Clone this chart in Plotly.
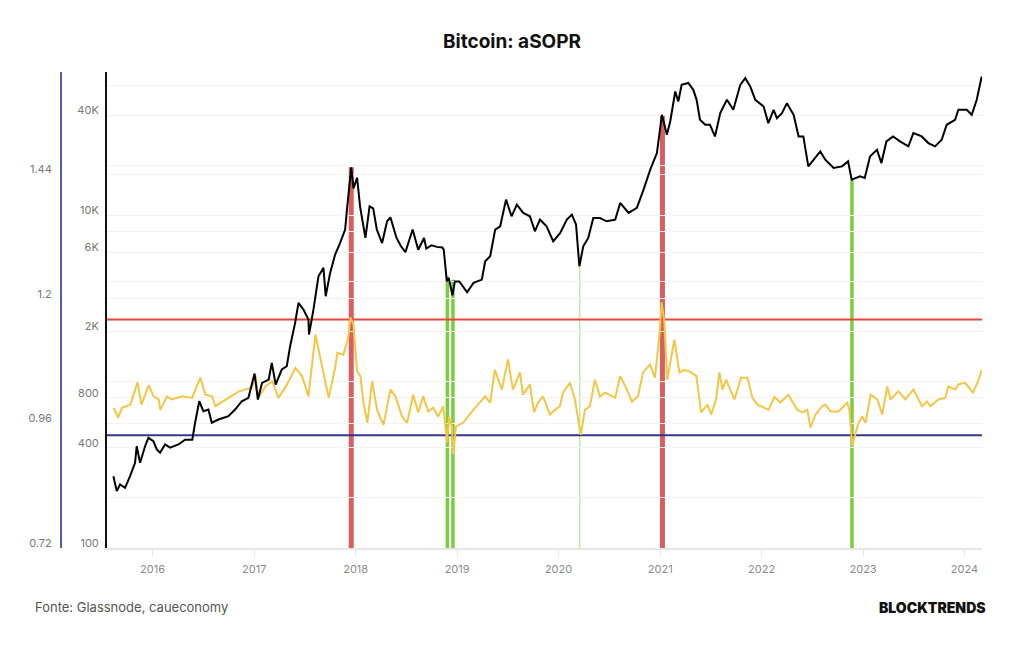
import plotly.graph_objects as go

# ---------------- data ----------------
price_dates = [
    "2015-08-13","2015-08-25","2015-09-06","2015-09-24","2015-10-12","2015-10-30","2015-11-05","2015-11-17",
    "2015-12-05","2015-12-17","2016-01-04","2016-01-16","2016-01-28","2016-02-15","2016-03-04","2016-04-03",
    "2016-04-27","2016-05-23","2016-06-02","2016-06-17","2016-07-02","2016-07-20","2016-08-01","2016-08-25",
    "2016-09-30","2016-10-24","2016-11-17","2016-12-11","2017-01-02","2017-01-14","2017-01-29","2017-02-22",
    "2017-03-05","2017-03-19","2017-04-10","2017-04-28","2017-05-10","2017-05-28","2017-06-09","2017-06-27",
    "2017-07-15","2017-07-17","2017-08-02","2017-08-20","2017-09-07","2017-09-15","2017-10-01","2017-10-19",
    "2017-11-06","2017-11-24","2017-12-01","2017-12-16","2017-12-24","2018-01-06","2018-01-17","2018-02-05",
    "2018-02-20","2018-03-05","2018-03-18","2018-04-06","2018-04-24","2018-05-06","2018-05-28","2018-06-13",
    "2018-06-29","2018-07-25","2018-08-14","2018-09-04","2018-09-12","2018-10-01","2018-10-20","2018-11-09",
    "2018-11-14","2018-11-20","2018-11-25","2018-12-02","2018-12-15","2018-12-24","2019-01-09","2019-02-06",
    "2019-03-01","2019-03-31","2019-04-12","2019-04-30","2019-05-18","2019-06-05","2019-06-26","2019-07-16",
    "2019-08-04","2019-08-27","2019-09-20","2019-10-08","2019-10-26","2019-11-19","2019-12-13","2020-01-07",
    "2020-01-31","2020-02-18","2020-03-04","2020-03-16","2020-03-30","2020-04-17","2020-05-05","2020-05-29",
    "2020-06-22","2020-07-23","2020-08-10","2020-09-09","2020-10-09","2020-11-02","2020-11-26","2020-12-20",
    "2021-01-07","2021-01-25","2021-02-06","2021-02-24","2021-03-07","2021-03-19","2021-04-12","2021-04-30",
    "2021-05-12","2021-05-24","2021-06-12","2021-06-29","2021-07-17","2021-08-05","2021-08-29","2021-09-21",
    "2021-10-16","2021-11-03","2021-11-21","2021-12-09","2022-01-08","2022-01-25","2022-02-13","2022-02-25",
    "2022-03-15","2022-04-02","2022-04-26","2022-05-14","2022-05-31","2022-06-18","2022-07-07","2022-07-31",
    "2022-08-18","2022-09-17","2022-10-17","2022-11-08","2022-11-21","2022-12-21","2023-01-07","2023-01-26",
    "2023-02-20","2023-03-08","2023-03-26","2023-04-19","2023-05-14","2023-06-13","2023-07-01","2023-07-31",
    "2023-08-24","2023-09-17","2023-10-11","2023-10-29","2023-11-28","2023-12-10","2024-01-09","2024-01-27",
    "2024-02-14","2024-03-03",
]
price_values = [
    270, 220, 241, 230, 270, 325, 409, 325,
    409, 459, 438, 391, 374, 419, 401, 419,
    448, 448, 566, 762, 664, 679, 566, 592,
    620, 679, 762, 799, 1118, 780, 983, 1029,
    1296, 960, 1182, 1237, 1631, 2254, 2972, 2709,
    2359, 1917, 2709, 4293, 4824, 3257, 4501, 5800,
    6815, 8193, 11000, 19400, 14500, 16800, 11200, 7300,
    11300, 11000, 8200, 6800, 9200, 9700, 7300, 6500,
    6000, 8200, 6200, 7300, 6300, 6600, 6450, 6400,
    6200, 4700, 4000, 4200, 3300, 4000, 4000, 3443,
    3920, 4104, 5287, 5665, 8193, 8575, 12400, 9850,
    11578, 10314, 9850, 8003, 9407, 8575, 6966, 7830,
    9407, 10076, 8780, 4936, 6502, 7301, 9623, 9623,
    9191, 9407, 11848, 10314, 11059, 14234, 18770, 23630,
    40122, 30434, 36590, 55393, 48244, 60728, 62294, 56678,
    49367, 37454, 34949, 34949, 29743, 41062, 49367, 42995,
    60728, 66636, 59400, 49367, 45025, 35759, 42995, 38318,
    41062, 47142, 40122, 29743, 29743, 19656, 21546, 24181,
    21546, 19224, 19656, 21060, 16351, 17118, 16740, 22561,
    24743, 20574, 27756, 29743, 27756, 25909, 31147, 29743,
    27130, 25909, 28404, 34949, 37454, 42995, 42995, 40122,
    49367, 68148,
]

asopr_dates = [
    "2015-08-14","2015-08-30","2015-09-13","2015-10-13","2015-11-08","2015-11-22","2015-12-18","2016-01-05",
    "2016-01-23","2016-01-29","2016-02-22","2016-03-11","2016-04-16","2016-05-22","2016-06-21","2016-07-09",
    "2016-08-02","2016-08-14","2016-09-30","2016-11-05","2016-12-24","2017-01-05","2017-01-16","2017-02-10",
    "2017-03-07","2017-03-29","2017-04-29","2017-05-29","2017-06-22","2017-07-15","2017-08-09","2017-09-02",
    "2017-09-26","2017-10-20","2017-10-27","2017-11-18","2017-12-06","2017-12-13","2017-12-24","2018-01-06",
    "2018-01-18","2018-01-29","2018-02-12","2018-03-01","2018-03-19","2018-04-11","2018-05-06","2018-05-24",
    "2018-06-17","2018-07-05","2018-07-27","2018-08-14","2018-09-01","2018-09-19","2018-10-07","2018-10-25",
    "2018-11-12","2018-11-26","2018-12-03","2018-12-13","2018-12-18","2018-12-28","2019-01-23","2019-02-28",
    "2019-04-12","2019-04-30","2019-05-17","2019-06-11","2019-07-03","2019-07-21","2019-08-15","2019-08-26",
    "2019-09-20","2019-10-05","2019-10-19","2019-11-06","2019-12-01","2019-12-19","2020-01-06","2020-01-17",
    "2020-02-11","2020-02-29","2020-03-21","2020-04-05","2020-04-23","2020-05-11","2020-05-29","2020-06-17",
    "2020-07-23","2020-08-10","2020-09-03","2020-09-21","2020-10-13","2020-10-31","2020-11-25","2020-12-13",
    "2020-12-30","2021-01-06","2021-01-16","2021-01-26","2021-02-21","2021-03-11","2021-03-29","2021-04-16",
    "2021-05-11","2021-05-28","2021-06-20","2021-07-03","2021-07-21","2021-08-02","2021-08-13","2021-08-26",
    "2021-09-25","2021-10-19","2021-11-11","2021-11-29","2021-12-17","2022-01-26","2022-02-16","2022-03-09",
    "2022-04-07","2022-05-09","2022-05-27","2022-06-14","2022-06-26","2022-07-14","2022-08-07","2022-08-19",
    "2022-09-06","2022-10-05","2022-11-05","2022-11-13","2022-11-23","2022-12-05","2022-12-16","2022-12-29",
    "2023-01-10","2023-01-28","2023-02-21","2023-03-11","2023-03-29","2023-04-10","2023-05-08","2023-06-02",
    "2023-07-01","2023-08-01","2023-08-19","2023-08-31","2023-09-29","2023-10-24","2023-11-04","2023-11-29",
    "2023-12-10","2024-01-03","2024-02-01","2024-02-19","2024-03-03",
]
asopr_values = [
    0.990, 0.971, 0.990, 0.996, 1.039, 0.996, 1.033, 1.012,
    1.006, 0.986, 1.012, 1.006, 1.012, 1.009, 1.048, 1.015,
    1.012, 0.993, 1.009, 1.021, 1.029, 1.054, 1.009, 1.031,
    1.041, 1.009, 1.035, 1.067, 1.051, 1.012, 1.131, 1.070,
    1.009, 1.070, 1.096, 1.092, 1.128, 1.164, 1.150, 1.060,
    1.051, 1.000, 0.961, 1.041, 0.986, 0.957, 1.025, 1.012,
    0.973, 0.961, 1.015, 0.981, 1.012, 0.983, 0.990, 0.973,
    0.993, 0.923, 0.973, 0.954, 0.900, 0.954, 0.961, 0.986,
    1.012, 1.000, 1.063, 1.025, 1.083, 1.025, 1.058, 1.015,
    1.035, 0.981, 1.000, 1.012, 0.977, 0.986, 0.993, 1.019,
    1.038, 1.006, 0.938, 0.986, 0.993, 1.044, 1.012, 1.019,
    1.009, 1.051, 1.025, 1.002, 1.012, 1.058, 1.073, 1.048,
    1.135, 1.193, 1.154, 1.044, 1.121, 1.058, 1.063, 1.060,
    1.051, 0.981, 0.996, 0.977, 1.006, 1.058, 1.025, 1.044,
    1.006, 1.048, 1.048, 1.009, 0.996, 0.986, 1.011, 1.000,
    1.015, 0.986, 0.981, 0.986, 0.952, 0.977, 0.993, 0.996,
    0.983, 0.983, 1.000, 0.986, 0.916, 0.942, 0.961, 0.973,
    0.961, 1.015, 1.006, 0.977, 1.031, 1.006, 1.022, 1.006,
    1.025, 0.993, 1.002, 0.993, 1.006, 1.009, 1.031, 1.025,
    1.035, 1.038, 1.019, 1.041, 1.063,
]

# marked events (vertical bars from the axis floor up to the price)
event_dates = ["2017-12-16", "2018-11-27", "2018-12-17", "2020-03-17", "2021-01-09", "2022-11-22"]
event_prices = [19400, 4300, 4100, 5000, 40000, 16300]
event_kinds = ["top", "bottom", "bottom", "minor", "top", "bottom"]

# aSOPR reference levels
asopr_upper_level = 1.16
asopr_lower_level = 0.937

# axis ticks
price_tickvals = [100, 200, 400, 800, 1000, 2000, 4000, 6000, 8000, 10000, 20000, 40000, 60000]
price_ticktext = ["100", "", "400", "800", "", "2K", "", "6K", "", "10K", "", "40K", ""]
asopr_tickvals = [0.72, 0.96, 1.2, 1.44]
asopr_ticktext = ["0.72", "0.96", "1.2", "1.44"]

x_start, x_end = "2015-07-21", "2024-03-04"
price_floor = 100

# ---------------- styling ----------------
kind_color = {"top": "#d95f5f", "bottom": "#7ccc3f", "minor": "#c4e6ab"}
kind_width = {"top": 5, "bottom": 3.5, "minor": 1.5}

W, H = 1024, 645
ML, MR, MT, MB = 0, 42, 72, 97
PW = W - ML - MR
PH = H - MT - MB
plot_left_px = 107
asopr_axis_px = 61
footer_y = (MT + PH - 607) / PH

fig = go.Figure()

# reference levels (on aSOPR axis, drawn under the aSOPR line)
fig.add_trace(go.Scatter(x=[x_start, x_end], y=[asopr_upper_level] * 2, mode="lines",
                         line=dict(color="#e8453c", width=2), yaxis="y", hoverinfo="skip", showlegend=False))
fig.add_trace(go.Scatter(x=[x_start, x_end], y=[asopr_lower_level] * 2, mode="lines",
                         line=dict(color="#35358c", width=2), yaxis="y", hoverinfo="skip", showlegend=False))

# aSOPR
fig.add_trace(go.Scatter(x=asopr_dates, y=asopr_values, mode="lines", name="aSOPR",
                         line=dict(color="#f4c646", width=2), yaxis="y", showlegend=False))

# price
fig.add_trace(go.Scatter(x=price_dates, y=price_values, mode="lines", name="Price",
                         line=dict(color="#000000", width=2), yaxis="y2", showlegend=False))

shapes = []
for d, p, k in zip(event_dates, event_prices, event_kinds):
    shapes.append(dict(type="line", xref="x", yref="y2", x0=d, x1=d, y0=price_floor, y1=p,
                       line=dict(color=kind_color[k], width=kind_width[k]), layer="below"))

tick_font = dict(family="Inter, Roboto, sans-serif", size=11, color="#777777")

fig.update_layout(
    width=W, height=H,
    margin=dict(l=ML, r=MR, t=MT, b=MB),
    paper_bgcolor="white", plot_bgcolor="white",
    title=dict(text="<b>Bitcoin: aSOPR</b>", x=0.5, xref="container", xanchor="center",
               y=1 - 41 / H, yref="container", yanchor="middle",
               font=dict(family="Inter, Roboto, sans-serif", size=19, color="#111111")),
    xaxis=dict(type="date", range=[x_start, x_end], domain=[plot_left_px / PW, 1],
               showline=True, linecolor="#e6e6e6", linewidth=2,
               ticks="outside", ticklen=6, tickcolor="#e6e6e6", tickwidth=1,
               dtick="M12", tick0="2016-01-01", tickformat="%Y", ticklabelstandoff=4,
               tickfont=dict(family="Inter, Roboto, sans-serif", size=11, color="#8a8a8a"),
               showgrid=False, zeroline=False),
    yaxis=dict(range=[0.72, 0.72 + PH / 519.4], anchor="free", position=asopr_axis_px / PW,
               side="left", showline=True, linecolor="#5b5ea6", linewidth=2,
               tickvals=asopr_tickvals, ticktext=asopr_ticktext, ticks="",
               ticklabelshift=-5, ticklabelstandoff=6,
               tickfont=tick_font, showgrid=True, gridcolor="#f3f3f3", zeroline=False,
               automargin=False),
    yaxis2=dict(type="log", range=[2, 2 + PH / 166.4], overlaying="y", anchor="x", side="left",
                showline=True, linecolor="#111111", linewidth=2,
                tickvals=price_tickvals, ticktext=price_ticktext, ticks="",
                ticklabelshift=-5, ticklabelstandoff=4,
                tickfont=tick_font, showgrid=True, gridcolor="#f3f3f3", zeroline=False,
                automargin=False),
    shapes=shapes,
    annotations=[
        dict(text="Fonte: Glassnode, caueconomy", xref="paper", yref="paper",
             x=33 / PW, y=footer_y, xanchor="left", yanchor="middle",
             showarrow=False, font=dict(family="Inter, Roboto, sans-serif", size=13, color="#555555")),
        dict(text="BLOCKTRENDS", xref="paper", yref="paper",
             x=988 / PW, y=footer_y, xanchor="right", yanchor="middle",
             showarrow=False, font=dict(family="Inter, Roboto, sans-serif", size=14, color="#111111",
                                        weight=900)),
    ],
    showlegend=False,
)

fig.write_html("out.html")
